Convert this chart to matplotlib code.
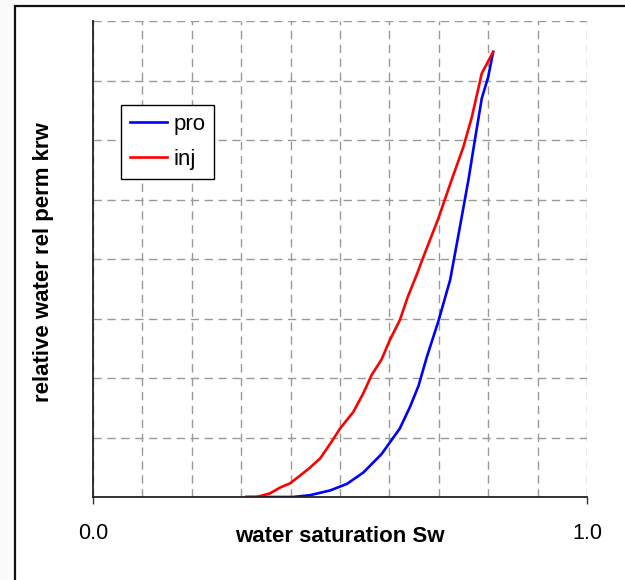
import matplotlib.pyplot as plt
from matplotlib.patches import Rectangle

plt.rcParams['font.family'] = ['Liberation Sans', 'DejaVu Sans']

# curves
sw_pro = [0.311, 0.331, 0.405, 0.439, 0.480, 0.514, 0.547, 0.584, 0.621, 0.642,
          0.659, 0.676, 0.699, 0.723, 0.739, 0.760, 0.773, 0.787, 0.800, 0.810]
krw_pro = [0.0, 0.0, 0.0, 0.003, 0.011, 0.022, 0.041, 0.072, 0.115, 0.152,
           0.187, 0.236, 0.295, 0.365, 0.437, 0.533, 0.600, 0.670, 0.706, 0.748]

sw_inj = [0.311, 0.331, 0.358, 0.379, 0.399, 0.436, 0.460, 0.483, 0.500, 0.527,
          0.547, 0.564, 0.584, 0.601, 0.621, 0.637, 0.655, 0.669, 0.699, 0.726,
          0.750, 0.767, 0.787, 0.810]
krw_inj = [0.0, 0.0, 0.006, 0.016, 0.023, 0.047, 0.065, 0.093, 0.115, 0.143,
           0.174, 0.205, 0.231, 0.264, 0.297, 0.336, 0.373, 0.404, 0.468, 0.533,
           0.589, 0.639, 0.712, 0.748]

fig = plt.figure(figsize=(6.25, 5.8), dpi=100, facecolor='#fbfbfb')
# outer chart frame (left and top edges visible)
fig.patches.append(Rectangle((15 / 625, -0.1), 1.2, 1 - 6 / 580 + 0.1,
                             transform=fig.transFigure, facecolor='white',
                             edgecolor='#111111', linewidth=1.6, zorder=-10))

ax = fig.add_axes([93 / 625, 1 - 497 / 580, 494 / 625, 476 / 580])
ax.set_facecolor('white')

ax.plot(sw_pro, krw_pro, color='#0000ff', lw=1.9, label='pro', zorder=3)
ax.plot(sw_inj, krw_inj, color='#ff0000', lw=1.9, label='inj', zorder=4)

ax.set_xlim(0, 1)
ax.set_ylim(0, 0.8)

ax.set_xticks([0, 1])
ax.set_xticklabels(['0.0', '1.0'], fontsize=15.5)
ax.set_xticks([i / 10 for i in range(11)], minor=True)
ax.set_yticks([i / 10 for i in range(9)])
ax.set_yticklabels([])
ax.tick_params(axis='x', which='major', length=5, width=1, color='#333333', pad=14)
ax.tick_params(axis='x', which='minor', length=0)
ax.tick_params(axis='y', length=0)
ax.grid(True, which='both', color='#999999', ls=(0, (6, 4)), lw=1)
ax.set_axisbelow(True)

ax.spines['top'].set_visible(False)
ax.spines['right'].set_visible(False)
for s in ['left', 'bottom']:
    ax.spines[s].set_color('#222222')
    ax.spines[s].set_linewidth(1.3)
    ax.spines[s].set_zorder(5)

ax.set_xlabel('water saturation Sw', fontsize=16, fontweight='bold')
ax.xaxis.set_label_coords(0.5, -0.084)
ax.xaxis.label.set_va('center')
ax.set_ylabel('relative water rel perm krw', fontsize=16, fontweight='bold')
ax.yaxis.set_label_coords(-0.1, 0.494)
ax.yaxis.label.set_va('center')

leg = ax.legend(loc='upper left', bbox_to_anchor=(28 / 494, 392 / 476),
                borderaxespad=0, fancybox=False, framealpha=1, fontsize=16,
                handlelength=1.65, handletextpad=0.3, borderpad=0.4,
                labelspacing=0.62)
leg.get_frame().set_edgecolor('black')
leg.get_frame().set_linewidth(1.0)

plt.savefig('out.png', dpi=100, facecolor=fig.get_facecolor())
